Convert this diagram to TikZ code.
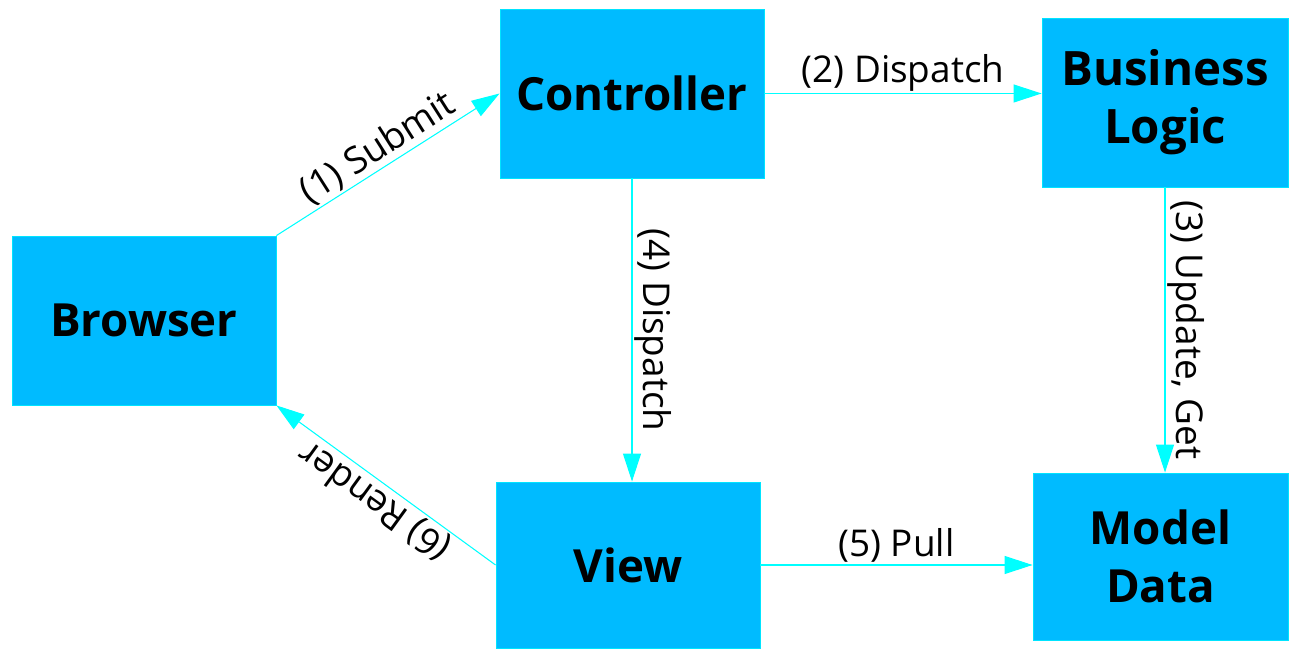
\documentclass[tikz,border=0pt]{standalone}
\usepackage{fontspec}
\setmainfont{Open Sans}
\definecolor{BoxBlue}{RGB}{0,187,255}
\definecolor{FlowCyan}{RGB}{0,255,255}
\usepackage{tikz}
\usetikzlibrary{arrows.meta, positioning, calc}

\begin{document}
\begin{tikzpicture}[
	bx/.style={rectangle, draw=FlowCyan!60!BoxBlue, line width=0.5pt, fill=BoxBlue, inner sep=0pt, text=black,
		align=center, font=\fontsize{26}{33}\selectfont\bfseries, minimum width=5.28cm, minimum height=3.38cm},
	fl/.style={-{Triangle[length=5.6mm, width=3.6mm]}, line width=0.6pt, FlowCyan},
	lb/.style={font=\fontsize{21}{25}\selectfont, text=black, inner sep=1pt}]

	\useasboundingbox (0,0) rectangle (25.78,12.96);

	\node[bx] (br) at (2.88,6.55) {Browser};
	\node[bx] (ct) at (12.64,11.09) {Controller};
	\node[bx, minimum width=4.92cm, font=\fontsize{27}{33}\selectfont\bfseries] (bl) at (23.30,10.91) {Business\\Logic};
	\node[bx, minimum height=3.32cm] (vw) at (12.56,1.66) {View};
	\node[bx, minimum width=5.10cm, minimum height=3.34cm] (md) at (23.21,1.83) {Model\\Data};

	\draw[fl] (br.north east) -- node[lb, midway, sloped, above] {(1) Submit} (ct.west);
	\draw[fl] (ct.east) -- node[lb, midway, above] {(2) Dispatch} (ct.east -| bl.west);
	\draw[fl] (bl.south) -- node[lb, midway, rotate=-90, anchor=south] {(3) Update, Get} (bl.south |- md.north);
	\draw[fl] (ct.south) -- node[lb, midway, rotate=-90, anchor=south] {(4) Dispatch} (ct.south |- vw.north);
	\draw[fl] (vw.east) -- node[lb, midway, above] {(5) Pull} (vw.east -| md.west);
	\draw[fl] (vw.west) -- node[lb, midway, rotate=144, anchor=south] {(6) Render} (br.south east);
\end{tikzpicture}
\end{document}
